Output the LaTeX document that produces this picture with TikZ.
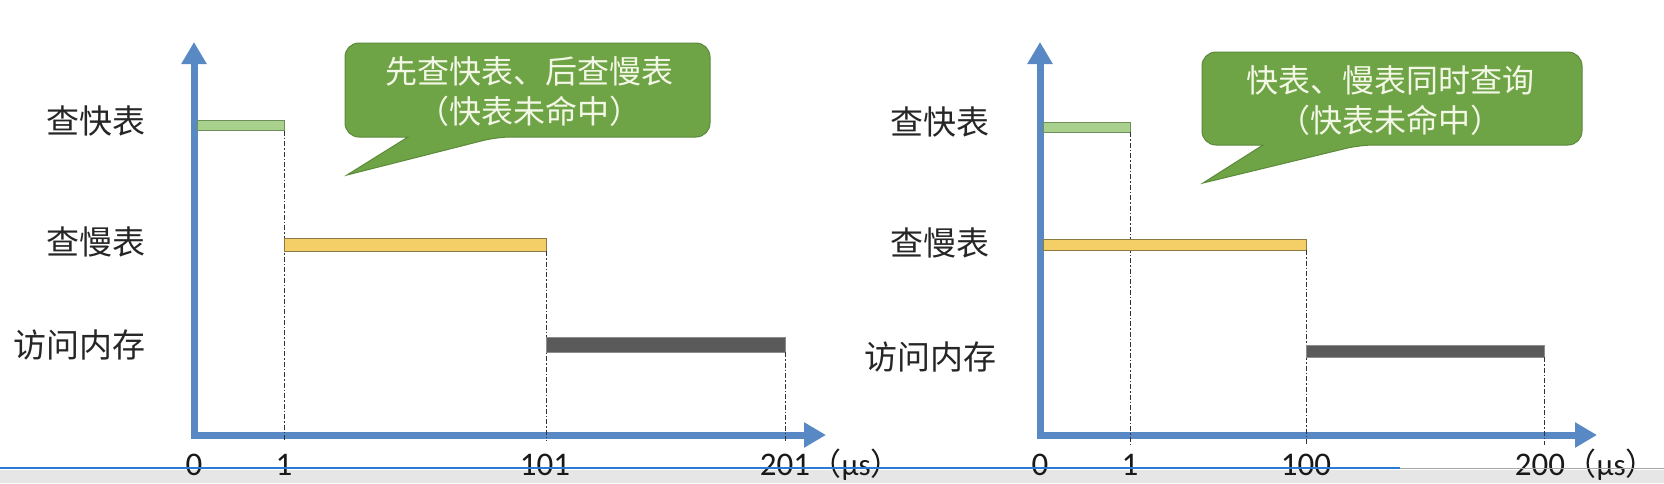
\documentclass[tikz,border=0pt]{standalone}
\usepackage{fontspec}
\setmainfont{Carlito}
\newfontfamily\cjk{Noto Sans CJK SC}
\usetikzlibrary{arrows.meta}
\definecolor{axisblue}{HTML}{5889C4}
\definecolor{gfill}{HTML}{A9D18E}
\definecolor{gbord}{HTML}{6E8F5A}
\definecolor{yfill}{HTML}{F4CE66}
\definecolor{ybord}{HTML}{8C7A45}
\definecolor{dfill}{HTML}{5A5A5A}
\definecolor{calfill}{HTML}{6FA446}
\definecolor{calbord}{HTML}{5B8A3A}
\definecolor{caltext}{HTML}{F3F7E6}
\definecolor{bandgray}{HTML}{E6E6E6}
\definecolor{chromeblue}{HTML}{2A7BD4}
\tikzset{
  axis/.style={line width=7pt, draw=axisblue, -{Triangle[length=22pt,width=24pt]}},
  barbox/.style={line width=1pt, inner sep=0pt, outer sep=0pt, anchor=north west},
  greenbar/.style={barbox, draw=gbord, fill=gfill},
  yellowbar/.style={barbox, draw=ybord, fill=yfill},
  darkbar/.style={barbox, draw=black!45, fill=dfill},
  dashline/.style={draw=black!80, line width=1pt, dash pattern=on 5pt off 2pt on 1.5pt off 2pt},
  rowlabel/.style={font=\cjk\fontsize{33}{38}\selectfont, text=black!85, inner sep=0pt},
  ticklabel/.style={font=\fontsize{33}{38}\selectfont, text=black!90, inner sep=0pt, anchor=base},
  unitlabel/.style={font=\fontsize{31}{36}\selectfont, text=black!90, inner sep=0pt, anchor=base west},
  callout/.style={draw=calbord, fill=calfill, line width=1pt},
  caltxt/.style={font=\cjk\fontsize{32}{40}\selectfont, text=caltext, align=center, inner sep=0pt}
}
\begin{document}
\begin{tikzpicture}[x=1pt,y=-1pt]
\useasboundingbox (0,0) rectangle (1664,483);
\fill[white] (0,0) rectangle (1664,483);
% bottom chrome band
\fill[bandgray] (0,470) rectangle (1664,483);

% ---------- left chart ----------
\coordinate (LYs) at (194,438.5);
\coordinate (LYt) at (194,42);
\coordinate (LXs) at (190.5,435);
\coordinate (LXt) at (826,435);
\draw[axis] (LYs) -- (LYt);
\draw[axis] (LXs) -- (LXt);

\node[greenbar, minimum width=87pt, minimum height=10pt] (b1) at (197.5,120.5) {};
\coordinate (d1) at (284.5,441);
\coordinate (d2) at (546,441);
\coordinate (d3) at (785,441);
\draw[dashline] (b1.south east) -- (d1);
\node[yellowbar, minimum width=262pt, minimum height=13pt] (b2) at (284,238) {};
\draw[dashline] (b2.south east) -- (d2);
\node[darkbar, minimum width=239pt, minimum height=15pt] (b3) at (546,337) {};
\draw[dashline] (b3.south east) -- (d3);

\node[rowlabel] (la1) at (96,121) {查快表};
\node[rowlabel] (la2) at (96,242) {查慢表};
\node[rowlabel] (la3) at (79,345) {访问内存};

\draw[callout] (408,137) [rounded corners=14pt] -- (345,137) -- (345,43) -- (710,43) -- (710,137) -- (497,137) [sharp corners] -- (347,175) -- cycle;
\node[caltxt] (cl) at (529,92) {先查快表、后查慢表\\（快表未命中）};

\node[ticklabel] (l0) at (194,475) {0};
\node[ticklabel] (l1) at (284,475) {1};
\node[ticklabel] (l101) at (545,475) {101};
\node[ticklabel] (l201) at (785,475) {201};
\node[unitlabel] (lu) at (l201.base east) {{\cjk（}μs{\cjk）}};

% ---------- right chart ----------
\coordinate (RYs) at (1040,438.5);
\coordinate (RYt) at (1040,42);
\coordinate (RXs) at (1036.5,435);
\coordinate (RXt) at (1597,435);
\draw[axis] (RYs) -- (RYt);
\draw[axis] (RXs) -- (RXt);

\node[greenbar, minimum width=87pt, minimum height=10pt] (c1) at (1043.5,122) {};
\coordinate (e1) at (1130.5,445);
\coordinate (e2) at (1306.5,445);
\coordinate (e3) at (1544,445);
\draw[dashline] (c1.south east) -- (e1);
\node[yellowbar, minimum width=263pt, minimum height=11pt] (c2) at (1043.5,239) {};
\draw[dashline] (c2.south east) -- (e2);
\node[darkbar, minimum width=238pt, minimum height=12pt] (c3) at (1306,345) {};
\draw[dashline] (c3.south east) -- (e3);

\node[rowlabel] (ra1) at (940,122) {查快表};
\node[rowlabel] (ra2) at (940,243) {查慢表};
\node[rowlabel] (ra3) at (930,357) {访问内存};

\draw[callout] (1263,145) [rounded corners=14pt] -- (1202,145) -- (1202,52) -- (1582,52) -- (1582,145) -- (1360,145) [sharp corners] -- (1203,183) -- cycle;
\node[caltxt] (cr) at (1390,101) {快表、慢表同时查询\\（快表未命中）};

\node[ticklabel] (r0) at (1040,475) {0};
\node[ticklabel] (r1) at (1130,475) {1};
\node[ticklabel] (r100) at (1306,475) {100};
\node[ticklabel] (r200) at (1540,475) {200};
\node[unitlabel] (ru) at (r200.base east) {{\cjk（}μs{\cjk）}};

% chrome line over the labels
\draw[chromeblue, line width=2pt] (0,468) -- (1400,468);
\draw[black!35, line width=1pt] (1400,468) -- (1664,468);
\end{tikzpicture}
\end{document}
